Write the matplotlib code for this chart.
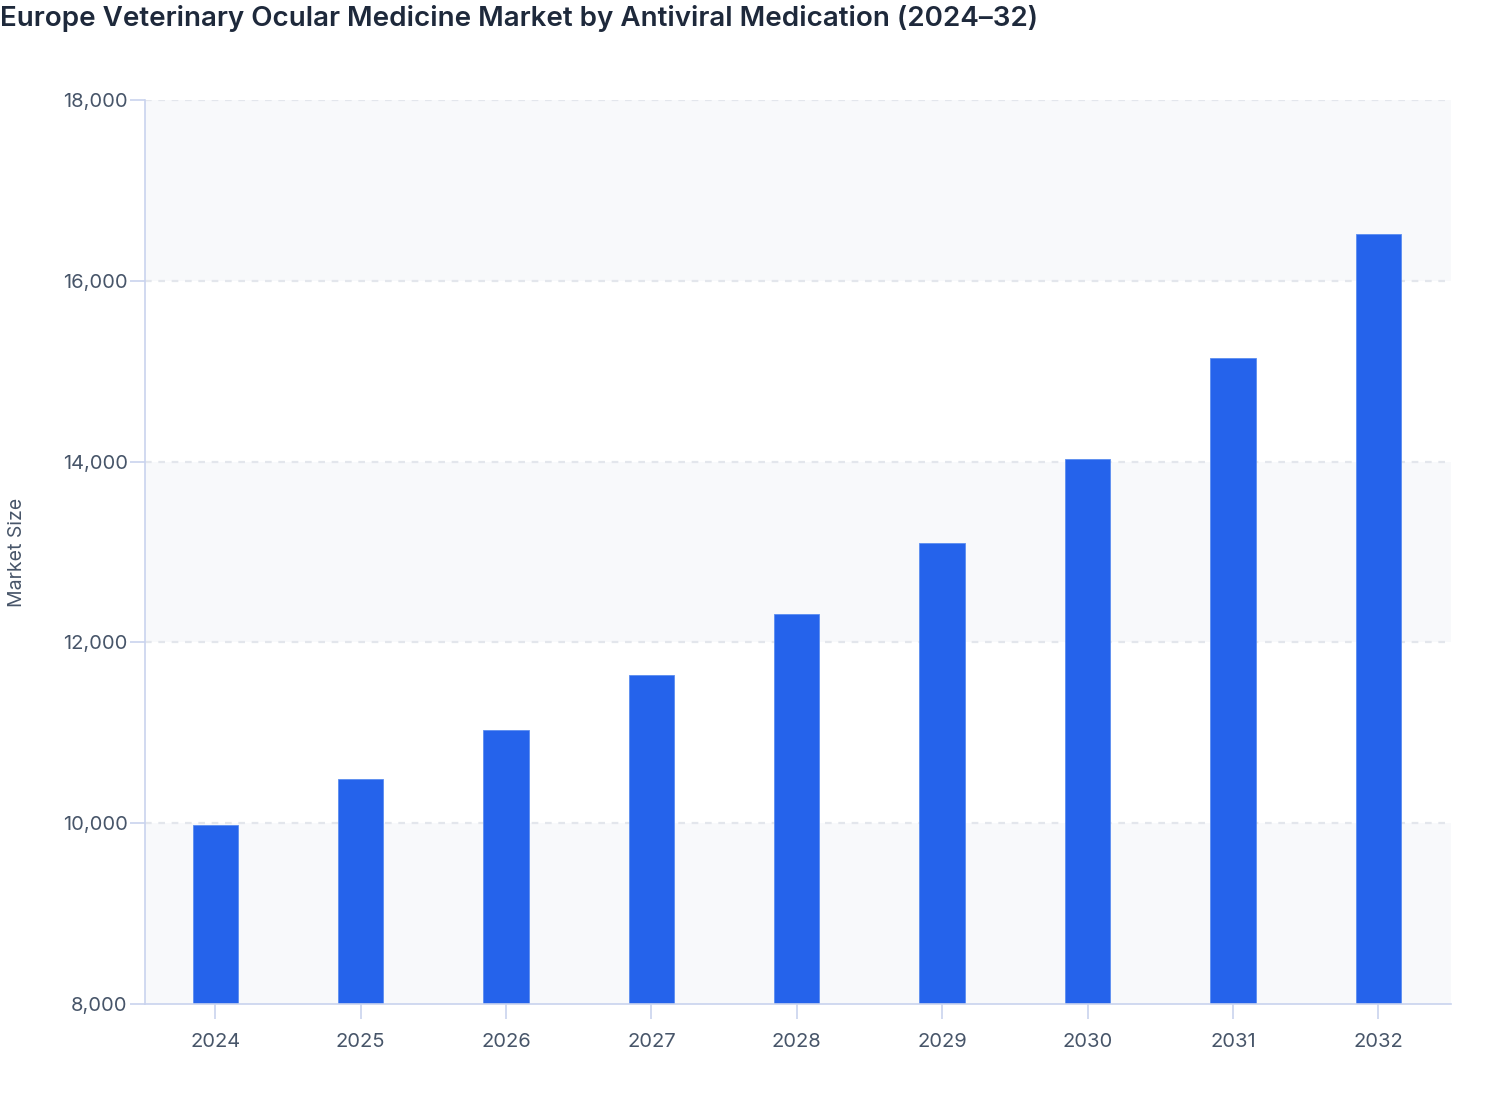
import matplotlib
matplotlib.use("Agg")
import matplotlib.pyplot as plt
from matplotlib.ticker import FuncFormatter

plt.rcParams["font.family"] = ["Inter", "DejaVu Sans"]

years = ["2024", "2025", "2026", "2027", "2028", "2029", "2030", "2031", "2032"]
market_size = [9985, 10489, 11031, 11640, 12314, 13100, 14029, 15146, 16522]
y_ticks = [8000, 10000, 12000, 14000, 16000, 18000]

BAR = "#2563EB"
SPINE = "#C9D3EE"
GRID = "#E3E6EC"
BAND = "#F8F9FB"
TICK_TEXT = "#475569"
TITLE = "#1E293B"

fig = plt.figure(figsize=(15.08, 11.2), dpi=100)
ax = fig.add_axes([145 / 1508, 116 / 1120, 1306 / 1508, 904 / 1120])
ax.set_facecolor("white")

# alternating background bands
for lo, hi in zip(y_ticks[0::2], y_ticks[1::2]):
    ax.axhspan(lo, hi, color=BAND, zorder=0, linewidth=0)

for t in y_ticks[1:]:
    ax.axhline(t, color=GRID, linestyle=(0, (3, 3)), linewidth=1.6, zorder=1)

x = list(range(len(years)))
ax.bar(x, market_size, width=0.312, color=BAR, edgecolor="#5B8DF0", linewidth=0.6, zorder=2)

ax.set_xlim(-0.483, 8.5)
ax.set_ylim(8000, 18000)
ax.set_xticks(x, years)
ax.set_yticks(y_ticks)
ax.yaxis.set_major_formatter(FuncFormatter(lambda v, _: f"{int(v):,}"))

for side in ["top", "right"]:
    ax.spines[side].set_visible(False)
for side in ["left", "bottom"]:
    ax.spines[side].set_color(SPINE)
    ax.spines[side].set_linewidth(1.2)

ax.tick_params(axis="both", colors=SPINE, length=11, width=1.2, labelsize=14.5,
               labelcolor=TICK_TEXT)
ax.tick_params(axis="x", pad=10)
ax.tick_params(axis="y", pad=1.5)

ax.set_ylabel("Market Size", fontsize=14, color=TICK_TEXT)
ax.yaxis.set_label_coords(-0.091, 0.5)

fig.text(0.0, 1 - 18 / 1120, "Europe Veterinary Ocular Medicine Market by Antiviral Medication (2024\u201332)",
         fontsize=20, fontweight="semibold", color=TITLE, ha="left", va="center")

fig.savefig("out.png", dpi=100)
